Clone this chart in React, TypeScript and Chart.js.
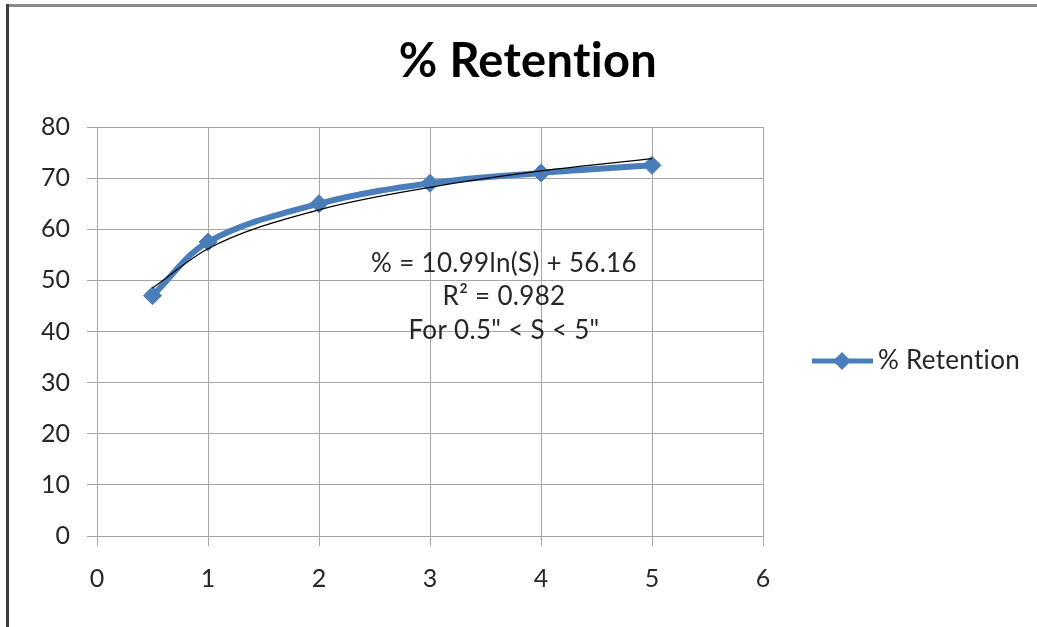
import React, { useEffect, useRef } from "react";
import { Chart, registerables } from "chart.js";

Chart.register(...registerables);

const sizes = [0.5, 1, 2, 3, 4, 5];
const retention = [47, 57.5, 65, 69, 71, 72.5];
const trendValues = [48.5, 56.2, 63.8, 68.2, 71.4, 73.8];
const xMin = 0;
const xMax = 6;
const yMin = 0;
const yMax = 80;
const titleText = "% Retention";
const seriesLabel = "% Retention";
const equationLines = ["% = 10.99ln(S) + 56.16", "R\u00B2 = 0.982", 'For 0.5" < S < 5"'];

const FONT = "Lato, 'Open Sans', sans-serif";
const BLUE = "#4a7ebb";
const GRID = "#a6a6a6";
const TEXT = "#262626";

const decorPlugin = {
  id: "decor",
  beforeDraw(chart: any) {
    const ctx = chart.ctx;
    ctx.save();
    ctx.fillStyle = "#ffffff";
    ctx.fillRect(0, 0, chart.width, chart.height);
    ctx.fillStyle = "#8a8a8a";
    ctx.fillRect(7, 4, chart.width - 7, 3);
    ctx.fillStyle = "#3c3c3c";
    ctx.fillRect(6, 4, 3, chart.height - 4);
    ctx.restore();
  },
  afterDraw(chart: any) {
    const ctx = chart.ctx;
    ctx.save();
    try { (ctx as any).letterSpacing = "0.3px"; } catch (e) {}
    // title
    ctx.fillStyle = "#000000";
    ctx.font = `bold 47px ${FONT}`;
    ctx.textAlign = "center";
    ctx.textBaseline = "middle";
    ctx.fillText(titleText, 528, 62);
    // equation
    ctx.fillStyle = TEXT;
    ctx.font = `26px ${FONT}`;
    const eqY = [264, 297, 331];
    equationLines.forEach((t, i) => ctx.fillText(t, 504, eqY[i]));
    // legend
    const ly = 361;
    ctx.strokeStyle = BLUE;
    ctx.lineWidth = 5;
    ctx.beginPath();
    ctx.moveTo(812, ly);
    ctx.lineTo(873, ly);
    ctx.stroke();
    ctx.fillStyle = BLUE;
    ctx.beginPath();
    ctx.moveTo(842, ly - 9);
    ctx.lineTo(851, ly);
    ctx.lineTo(842, ly + 9);
    ctx.lineTo(833, ly);
    ctx.closePath();
    ctx.fill();
    ctx.fillStyle = TEXT;
    ctx.textAlign = "left";
    ctx.font = `26px ${FONT}`;
    ctx.fillText(seriesLabel, 878, ly);
    ctx.restore();
  },
};

export default function App() {
  const ref = useRef<HTMLCanvasElement | null>(null);
  useEffect(() => {
    document.body.style.margin = "0";
    const canvas = ref.current!;
    const chart = new Chart(canvas, {
      type: "line",
      data: {
        datasets: [
          {
            label: "Trend",
            data: sizes.map((x, i) => ({ x, y: trendValues[i] })),
            borderColor: "#000000",
            borderWidth: 1.2,
            pointRadius: 0,
            cubicInterpolationMode: "monotone",
            fill: false,
            order: 0,
          },
          {
            label: seriesLabel,
            data: sizes.map((x, i) => ({ x, y: retention[i] })),
            borderColor: BLUE,
            backgroundColor: BLUE,
            borderWidth: 6,
            tension: 0.35,
            pointStyle: "rectRot",
            pointRadius: 9,
            pointBorderWidth: 1,
            pointBackgroundColor: BLUE,
            pointBorderColor: BLUE,
            fill: false,
            order: 1,
          },
        ],
      },
      options: {
        animation: false,
        responsive: false,
        devicePixelRatio: 1,
        layout: { padding: { left: 37, top: 127, right: 274, bottom: 31 } },
        plugins: { legend: { display: false }, title: { display: false }, tooltip: { enabled: false } },
        scales: {
          x: {
            type: "linear",
            min: xMin,
            max: xMax,
            ticks: { stepSize: 1, padding: 18, color: TEXT, font: { family: FONT, size: 25 } },
            grid: { color: GRID, lineWidth: 1, tickLength: 10, drawTicks: true },
            border: { color: GRID, width: 1 },
            afterFit: (s: any) => { s.height = 60; },
          },
          y: {
            type: "linear",
            min: yMin,
            max: yMax,
            ticks: { stepSize: 10, padding: 17, color: TEXT, font: { family: FONT, size: 25 } },
            grid: { color: GRID, lineWidth: 1, tickLength: 10, drawTicks: true },
            border: { color: GRID, width: 1 },
            afterFit: (s: any) => { s.width = 60; },
          },
        },
      },
      plugins: [decorPlugin],
    });
    return () => chart.destroy();
  }, []);
  return (
    <div style={{ position: "fixed", left: 0, top: 0, width: 1037, height: 627 }}>
      <canvas ref={ref} width={1037} height={627} style={{ width: 1037, height: 627 }} />
    </div>
  );
}
